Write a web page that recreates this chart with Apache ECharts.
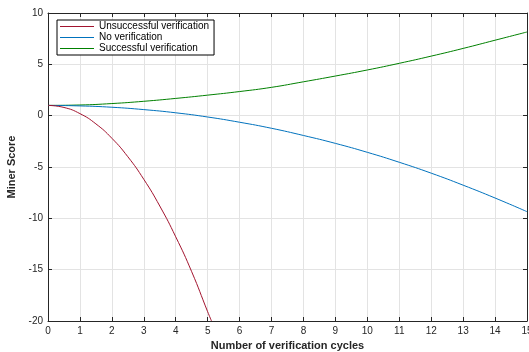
<!DOCTYPE html>
<html>
<head>
<meta charset="utf-8">
<script src="https://cdn.jsdelivr.net/npm/echarts@6/dist/echarts.min.js"></script>
<style>
  html, body { margin: 0; padding: 0; background: #fff; }
  #chart { width: 529px; height: 352px; }
</style>
</head>
<body>
<div id="chart"></div>
<script>
// values
const unsuccessfulX = [0, 0.5, 1, 1.5, 2, 2.5, 3, 3.5, 4, 4.5, 5, 5.12];
const unsuccessfulY = [1, 0.8, 0.2, -0.8, -2.2, -4.0, -6.2, -8.8, -11.8, -15.2, -19.1, -20];

const cycles = [0, 1, 2, 3, 4, 5, 6, 7, 8, 9, 10, 11, 12, 13, 14, 15];
const noVerification = [1, 0.95, 0.82, 0.59, 0.28, -0.13, -0.64, -1.23, -1.93, -2.7, -3.57, -4.54, -5.6, -6.77, -8.02, -9.35];
const successful = [1, 1.04, 1.18, 1.4, 1.68, 2.0, 2.35, 2.76, 3.3, 3.86, 4.45, 5.1, 5.8, 6.55, 7.35, 8.15];

const seriesNames = ['Unsuccessful verification', 'No verification', 'Successful verification'];
const yTicks = [-20, -15, -10, -5, 0, 5, 10];

const pairs = (xs, ys) => xs.map((x, i) => [x, ys[i]]);

const axisColor = '#262626';
const gridColor = '#e3e3e3';
const font = 'Liberation Sans, Arial, sans-serif';

const chart = echarts.init(document.getElementById('chart'));

const baseX = {
  type: 'value',
  min: 0,
  max: 15,
  interval: 1,
  axisLine: { show: true, onZero: false, lineStyle: { color: axisColor, width: 1 } },
  axisTick: { show: true, inside: true, length: 4, lineStyle: { color: axisColor } },
};
const baseY = {
  type: 'value',
  min: yTicks[0],
  max: yTicks[yTicks.length - 1],
  interval: 5,
  axisLine: { show: true, onZero: false, lineStyle: { color: axisColor, width: 1 } },
  axisTick: { show: true, inside: true, length: 4, lineStyle: { color: axisColor } },
};

const option = {
  animation: false,
  textStyle: { fontFamily: font },
  grid: { left: 48, right: 2, top: 13, bottom: 31, containLabel: false, outerBoundsMode: 'none' },
  legend: {
    left: 57,
    top: 20,
    orient: 'vertical',
    data: seriesNames,
    icon: 'rect',
    itemWidth: 34,
    itemHeight: 1.2,
    itemGap: 0,
    padding: [1, 5, 1, 3],
    borderColor: '#000',
    borderWidth: 1,
    backgroundColor: '#fff',
    textStyle: { fontSize: 10, color: '#000', fontFamily: font, lineHeight: 11 },
  },
  xAxis: [
    Object.assign({}, baseX, {
      position: 'bottom',
      name: 'Number of verification cycles',
      nameLocation: 'middle',
      nameGap: 18,
      nameTextStyle: { fontSize: 11, fontWeight: 'bold', color: axisColor },
      axisLabel: { fontSize: 10, color: axisColor, margin: 5 },
      splitLine: { show: true, lineStyle: { color: gridColor, width: 1 } },
    }),
    Object.assign({}, baseX, {
      position: 'top',
      axisLabel: { show: false },
      splitLine: { show: false },
    }),
  ],
  yAxis: [
    Object.assign({}, baseY, {
      position: 'left',
      name: 'Miner Score',
      nameLocation: 'middle',
      nameGap: 26,
      nameTextStyle: { fontSize: 11, fontWeight: 'bold', color: axisColor },
      axisLabel: { fontSize: 10, color: axisColor, margin: 5 },
      splitLine: { show: true, lineStyle: { color: gridColor, width: 1 } },
    }),
    Object.assign({}, baseY, {
      position: 'right',
      axisLabel: { show: false },
      splitLine: { show: false },
    }),
  ],
  series: [
    {
      name: seriesNames[0],
      type: 'line',
      data: pairs(unsuccessfulX, unsuccessfulY),
      smooth: true,
      symbol: 'none',
      color: '#A2142F',
      lineStyle: { width: 1 },
      z: 5,
    },
    {
      name: seriesNames[1],
      type: 'line',
      data: pairs(cycles, noVerification),
      smooth: true,
      symbol: 'none',
      color: '#0072BD',
      lineStyle: { width: 1 },
      z: 4,
    },
    {
      name: seriesNames[2],
      type: 'line',
      data: pairs(cycles, successful),
      smooth: true,
      symbol: 'none',
      color: '#008000',
      lineStyle: { width: 1 },
      z: 3,
    },
  ],
};

chart.setOption(option);
</script>
</body>
</html>
